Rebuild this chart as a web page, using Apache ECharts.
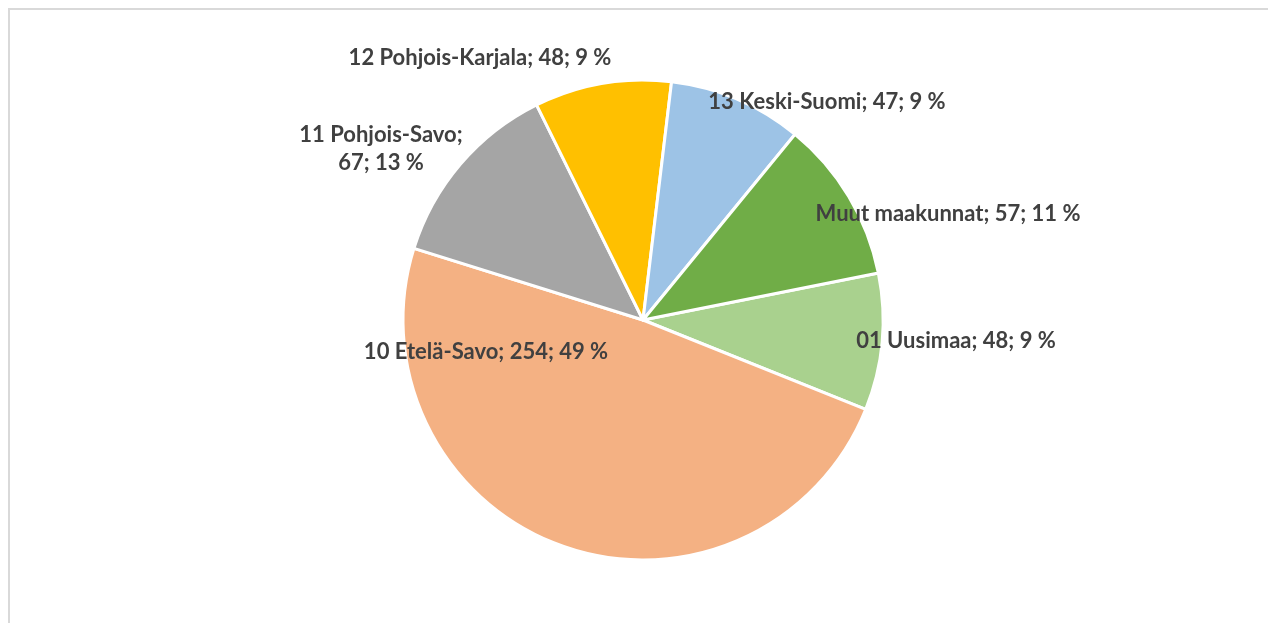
<!DOCTYPE html>
<html>
<head>
<meta charset="utf-8">
<style>
  html, body { margin: 0; padding: 0; background: #fff; }
  #chart { width: 1268px; height: 623px; }
</style>
<script src="https://cdn.jsdelivr.net/npm/echarts@6/dist/echarts.min.js"></script>
</head>
<body>
<div id="chart"></div>
<script>
  // data
  const names = ['01 Uusimaa', '10 Etelä-Savo', '11 Pohjois-Savo', '12 Pohjois-Karjala', '13 Keski-Suomi', 'Muut maakunnat'];
  const values = [48, 254, 67, 48, 47, 57];
  const colors = ['#a9d18e', '#f4b183', '#a5a5a5', '#ffc000', '#9dc3e6', '#70ad47'];

  // label centres (px), same order as names
  const labelPos = [[956, 341], [486, 352], [381, 149], [480, 58], [827, 102], [948, 214]];

  const total = values.reduce((a, b) => a + b, 0);

  const myChart = echarts.init(document.getElementById('chart'), null, { renderer: 'canvas' });
  myChart.setOption({
    animation: false,
    graphic: [
      {
        type: 'rect',
        shape: { x: 9, y: 9, width: 1400, height: 800 },
        style: { fill: 'none', stroke: '#d9d9d9', lineWidth: 2 },
        silent: true
      }
    ],
    series: [
      {
        type: 'pie',
        center: [643, 320],
        radius: [0, 240],
        startAngle: 11.3,
        clockwise: true,
        avoidLabelOverlap: false,
        itemStyle: { borderColor: '#fff', borderWidth: 3 },
        label: {
          show: true,
          position: 'inside',
          color: '#404040',
          fontFamily: 'Lato',
          fontWeight: 'bold',
          fontSize: 22,
          lineHeight: 28,
          align: 'center',
          formatter: function (p) {
            const pct = Math.round(p.value / total * 100);
            if (p.dataIndex === 2) return p.name + ';\n' + p.value + '; ' + pct + ' %';
            return p.name + '; ' + p.value + '; ' + pct + ' %';
          }
        },
        labelLine: { show: false },
        labelLayout: function (params) {
          const pos = labelPos[params.dataIndex];
          return { x: pos[0], y: pos[1], align: 'center', verticalAlign: 'middle' };
        },
        data: names.map((n, i) => ({ name: n, value: values[i], itemStyle: { color: colors[i] } }))
      }
    ]
  });
  window.addEventListener('resize', function () {
    myChart.resize();
  });
</script>
</body>
</html>
